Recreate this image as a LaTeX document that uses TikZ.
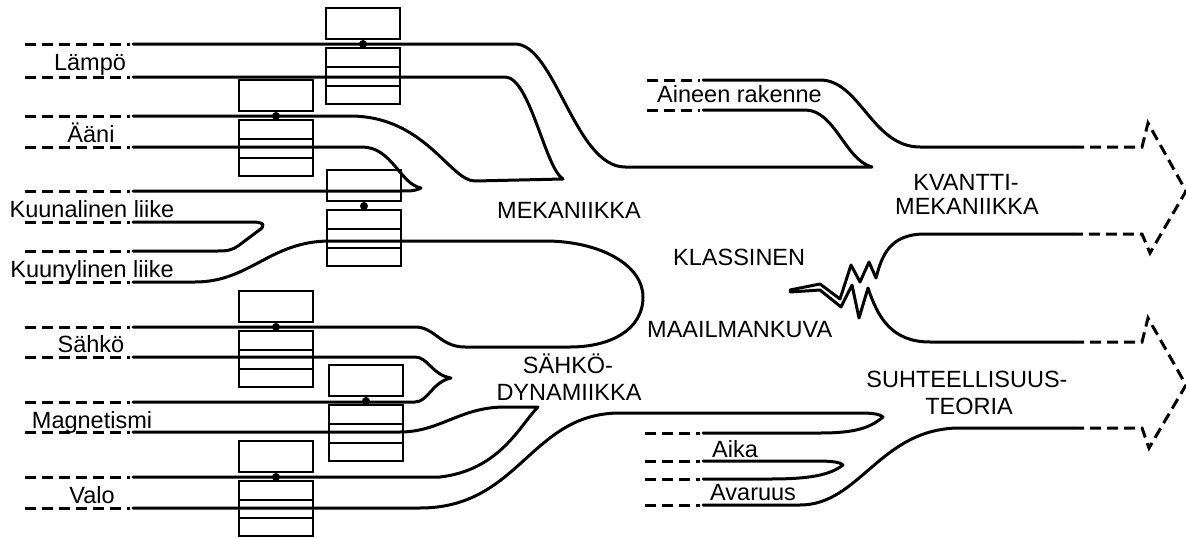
\documentclass[tikz,border=0pt]{standalone}
\usepackage{fontspec}
\setmainfont{Liberation Sans}
\tikzset{
  flow/.style={line width=3pt, line join=round, line cap=round},
  faded/.style={line width=3pt, dash pattern=on 11pt off 6pt},
  tbox/.style={line width=2.5pt},
  lbl/.style={font=\fontsize{23.5}{28}\selectfont, inner sep=0pt, anchor=base},
}
\begin{document}
\begin{tikzpicture}[x=1pt, y=-1pt]
	\useasboundingbox (0,0) rectangle (1186,538);

	% Stiplet start av strømmene
	\draw[faded] (25,44) -- (130,44) (25,77) -- (130,77) (25,116) -- (130,116) (25,147) -- (130,147)
		(25,191) -- (130,191) (25,222) -- (130,222) (25,251) -- (130,251) (25,282) -- (130,282)
		(25,327) -- (130,327) (25,357) -- (130,357) (25,402) -- (130,402) (25,432) -- (130,432)
		(25,477) -- (130,477) (25,508) -- (130,508);
	\draw[faded] (647,80) -- (700,80) (647,110) -- (700,110) (645,433) -- (700,433) (645,461) -- (700,461)
		(645,479) -- (700,479) (645,505) -- (700,505);

	% Mekanikk: strømmene smelter sammen
	\draw[flow] (133,44) -- (515,44) .. controls (555,44) and (575,167) .. (625,167) -- (872,167)
		.. controls (845,160) and (835,110) .. (805,110) -- (703,110);
	\draw[flow] (133,77) -- (505,77) .. controls (530,77) and (545,168) .. (563,179) -- (475,181)
		.. controls (450,181) and (425,116) .. (350,116) -- (133,116);
	\draw[flow] (133,147) -- (362,147) .. controls (392,147) and (400,184) .. (421,188)
		.. controls (415,191) and (412,191) .. (400,191) -- (133,191);
	\draw[flow] (133,222) -- (252,222) .. controls (265,222) and (266,226) .. (258,231) -- (238,246)
		.. controls (232,250) and (228,251) .. (218,251) -- (133,251);

	% Stor sløyfe mellom mekanikk og elektrodynamikk
	\draw[flow] (133,282) -- (195,282) .. controls (250,282) and (270,241) .. (330,241) -- (545,241)
		.. controls (600,241) and (643,265) .. (643,297) .. controls (643,330) and (610,347) .. (570,347)
		-- (465,347) .. controls (440,347) and (435,327) .. (415,327) -- (133,327);

	% Elektrodynamikk
	\draw[flow] (133,357) -- (415,357) .. controls (428,357) and (432,375) .. (451,378)
		.. controls (432,382) and (428,402) .. (415,402) -- (133,402);
	\draw[flow] (133,432) -- (400,432) .. controls (440,432) and (460,407) .. (505,407) -- (538,407)
		.. controls (520,425) and (500,470) .. (440,477) -- (133,477);
	\draw[flow] (133,508) -- (420,508) .. controls (520,508) and (530,413) .. (620,413) -- (860,413)
		.. controls (872,413) and (880,414) .. (883,417) .. controls (870,428) and (855,433) .. (820,433) -- (703,433);

	% Tid og rom
	\draw[flow] (703,461) -- (815,461) .. controls (832,461) and (840,462) .. (843,465)
		.. controls (830,475) and (810,479) .. (770,479) -- (703,479);
	\draw[flow] (703,505) -- (800,505) .. controls (860,505) and (880,428) .. (960,428) -- (1073,428);
	\draw[flow] (703,80) -- (820,80) .. controls (860,80) and (872,147) .. (920,147) -- (1073,147);

	% Bruddet (sikksakk)
	\draw[flow] (790,290) -- (820,284) -- (840,299) -- (851,265) -- (860,282) -- (869,262) -- (876,278)
		.. controls (882,255) and (890,234) .. (925,234) -- (1073,234);
	\draw[flow] (790,292) -- (820,290) -- (841,307) -- (852,285) -- (859,318) -- (868,288)
		.. controls (878,318) and (892,342) .. (930,342) -- (1073,342);

	% Stiplede piler
	\draw[faded] (1073,147) -- (1142,147) -- (1148,123) -- (1186,191) -- (1150,253) -- (1142,234) -- (1073,234);
	\draw[faded] (1073,342) -- (1142,342) -- (1148,318) -- (1186,385) -- (1149,448) -- (1142,428) -- (1073,428);

	% Bokser med punkt
	\draw[tbox] (326,8) rectangle (400,39) (326,48) rectangle (400,104) (326,67) -- (400,67) (326,86) -- (400,86);
	\fill (363,44) circle (4pt);
	\draw[tbox] (239,80) rectangle (313,111) (239,120) rectangle (313,176) (239,139) -- (313,139) (239,158) -- (313,158);
	\fill (276,116) circle (4pt);
	\draw[tbox] (327,170) rectangle (401,201) (327,210) rectangle (401,266) (327,229) -- (401,229) (327,248) -- (401,248);
	\fill (364,206) circle (4pt);
	\draw[tbox] (239,291) rectangle (313,322) (239,331) rectangle (313,387) (239,350) -- (313,350) (239,369) -- (313,369);
	\fill (276,327) circle (4pt);
	\draw[tbox] (329,365) rectangle (403,396) (329,405) rectangle (403,461) (329,424) -- (403,424) (329,443) -- (403,443);
	\fill (366,401) circle (4pt);
	\draw[tbox] (239,441) rectangle (313,472) (239,481) rectangle (313,536) (239,500) -- (313,500) (239,518) -- (313,518);
	\fill (276,477) circle (4pt);

	% Tekst
	\node[lbl] (lampo) at (90,70) {Lämpö};
	\node[lbl] (aani) at (91,142) {Ääni};
	\node[lbl] (kuunala) at (92,217) {Kuunalinen liike};
	\node[lbl] (kuunyl) at (92,277) {Kuunylinen liike};
	\node[lbl] (sahko) at (91,352) {Sähkö};
	\node[lbl] (magn) at (92,428) {Magnetismi};
	\node[lbl] (valo) at (92,503) {Valo};
	\node[lbl, anchor=base west] (aine) at (657,102) {Aineen rakenne};
	\node[lbl, anchor=base west] (aika) at (712,457) {Aika};
	\node[lbl, anchor=base west] (avaruus) at (710,500) {Avaruus};

	\node[lbl] (mek) at (569,218) {MEKANIIKKA};
	\node[lbl, anchor=base west] (klass) at (673,265) {KLASSINEN};
	\node[lbl, anchor=base west] (maailm) at (647,337) {MAAILMANKUVA};
	\node[lbl] (sahkodyn1) at (568,373) {SÄHKÖ-};
	\node[lbl] (sahkodyn2) at (569,400) {DYNAMIIKKA};
	\node[lbl] (kvantti1) at (966,190) {KVANTTI-};
	\node[lbl] (kvantti2) at (967,214) {MEKANIIKKA};
	\node[lbl] (suht1) at (967,387) {SUHTEELLISUUS-};
	\node[lbl] (suht2) at (969,414) {TEORIA};
\end{tikzpicture}
\end{document}
